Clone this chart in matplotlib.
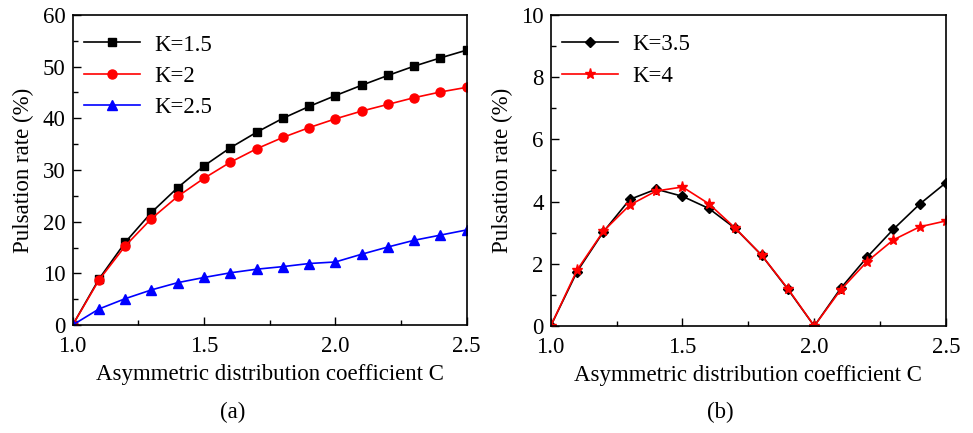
import matplotlib.pyplot as plt
from matplotlib.ticker import MultipleLocator

plt.rcParams['font.family'] = ['Liberation Serif', 'DejaVu Serif']

C = [1.0, 1.1, 1.2, 1.3, 1.4, 1.5, 1.6, 1.7, 1.8, 1.9, 2.0, 2.1, 2.2, 2.3, 2.4, 2.5]

k15 = [0, 8.9, 16.0, 21.8, 26.6, 30.8, 34.3, 37.3, 40.0, 42.3, 44.4, 46.4, 48.3, 50.1, 51.7, 53.2]
k2 = [0, 8.7, 15.3, 20.6, 24.9, 28.4, 31.5, 34.1, 36.3, 38.2, 39.9, 41.4, 42.7, 44.0, 45.1, 46.0]
k25 = [0, 3.1, 5.1, 6.8, 8.2, 9.2, 10.1, 10.8, 11.3, 11.9, 12.2, 13.7, 15.1, 16.4, 17.4, 18.4]

k35 = [0, 1.75, 3.03, 4.07, 4.40, 4.17, 3.78, 3.14, 2.28, 1.18, 0, 1.21, 2.21, 3.11, 3.92, 4.61]
k4 = [0, 1.80, 3.05, 3.89, 4.34, 4.47, 3.93, 3.15, 2.28, 1.20, 0, 1.16, 2.07, 2.77, 3.19, 3.38]

fs = 16.5

fig = plt.figure(figsize=(9.73, 4.33), dpi=100)
ax1 = fig.add_axes([0.0747, 0.2494, 0.405, 0.716])
ax2 = fig.add_axes([0.566, 0.247, 0.4063, 0.7185])

ax1.plot(C, k15, color='black', marker='s', markersize=5.5, lw=1.2, label='K=1.5')
ax1.plot(C, k2, color='red', marker='o', markersize=6.5, lw=1.2, label='K=2')
ax1.plot(C, k25, color='blue', marker='^', markersize=6.5, lw=1.2, label='K=2.5')
ax1.set_ylim(0, 60)
ax1.yaxis.set_major_locator(MultipleLocator(10))
ax1.yaxis.set_minor_locator(MultipleLocator(5))

ax2.plot(C, k35, color='black', marker='D', markersize=5.5, lw=1.2, label='K=3.5')
ax2.plot(C, k4, color='red', marker='*', markersize=8, lw=1.2, label='K=4')
ax2.set_ylim(0, 10)
ax2.yaxis.set_major_locator(MultipleLocator(2))
ax2.yaxis.set_minor_locator(MultipleLocator(1))

for ax in (ax1, ax2):
    ax.set_xlim(1.0, 2.5)
    ax.xaxis.set_major_locator(MultipleLocator(0.5))
    ax.xaxis.set_minor_locator(MultipleLocator(0.25))
    ax.xaxis.set_major_formatter(plt.FormatStrFormatter('%.1f'))
    ax.tick_params(which='both', direction='in', top=False, right=False, labelsize=fs)
    ax.tick_params(axis='x', pad=8)
    ax.tick_params(axis='y', pad=5)
    ax.tick_params(which='major', length=6, width=1)
    ax.tick_params(which='minor', length=3.5, width=1)
    for s in ax.spines.values():
        s.set_linewidth(1.2)
    ax.set_xlabel('Asymmetric distribution coefficient C', fontsize=fs, labelpad=5)
    ax.set_ylabel('Pulsation rate (%)', fontsize=fs, labelpad=6)
    ax.legend(loc='upper left', bbox_to_anchor=(-0.02, 1.0), frameon=False, fontsize=fs,
              handlelength=2.45, handletextpad=0.6, labelspacing=0.45, borderaxespad=0.45)

fig.text(0.239, 0.035, '(a)', fontsize=fs, ha='center')
fig.text(0.74, 0.035, '(b)', fontsize=fs, ha='center')

plt.savefig('out.png', dpi=100)
